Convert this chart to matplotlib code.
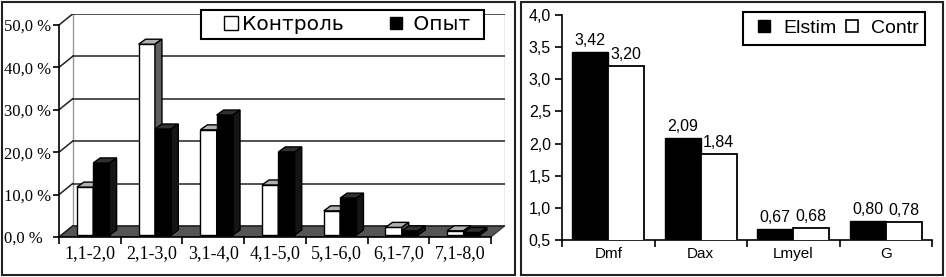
import matplotlib
matplotlib.use('Agg')
import matplotlib.pyplot as plt
from matplotlib.patches import Polygon, Rectangle
from matplotlib.lines import Line2D
import numpy as np

# ---------------- data: left chart ----------------
ranges = ["1,1-2,0", "2,1-3,0", "3,1-4,0", "4,1-5,0", "5,1-6,0", "6,1-7,0", "7,1-8,0"]
control = [11.3, 45.0, 24.8, 11.8, 5.7, 1.8, 1.0]
experiment = [17.0, 25.0, 28.3, 19.6, 8.7, 1.0, 0.6]
left_yticks = [0, 10, 20, 30, 40, 50]
left_legend = ["Контроль", "Опыт"]

# ---------------- data: right chart ----------------
params = ["Dmf", "Dax", "Lmyel", "G"]
elstim = [3.42, 2.09, 0.67, 0.80]
contr = [3.20, 1.84, 0.68, 0.78]
right_yticks = [0.5, 1.0, 1.5, 2.0, 2.5, 3.0, 3.5, 4.0]
right_legend = ["Elstim", "Contr"]

W, H = 946, 277
fig = plt.figure(figsize=(9.46, 2.77), dpi=100)
fig.patch.set_facecolor('white')


def fx(px):
    return px / W


def fy(py):
    return 1 - py / H


# ================= LEFT: pseudo-3D columns =================
x_front0, x_front7 = 59, 491
y_front0, y_front50 = 237, 25
ux = (x_front7 - x_front0) / 7.0
uy = (y_front0 - y_front50) / 50.0
DXpx, DYpx = 13.6, 11.0
DX, DY = DXpx / ux, DYpx / uy

axl = fig.add_axes([fx(x_front0), fy(y_front0),
                    (x_front7 - x_front0 + DXpx) / W,
                    (y_front0 - y_front50 + DYpx) / H])
axl.set_xlim(0, 7 + DX)
axl.set_ylim(0, 50 + DY)
axl.patch.set_visible(False)
ncat = len(ranges)

# floor
axl.add_patch(Polygon([(0, 0), (ncat, 0), (ncat + DX, DY), (DX, DY)], closed=True,
                      fc='#555555', ec='#333333', lw=0.8, zorder=1))
# back wall grid + side-wall diagonals
for v in left_yticks:
    axl.plot([DX, ncat + DX], [v + DY, v + DY], color='#222222', lw=1.1, zorder=1.5)
    axl.plot([0, DX], [v, v + DY], color='#222222', lw=1.1, zorder=1.5)
axl.plot([DX, DX], [DY, 50 + DY], color='#999999', lw=1.0, zorder=1.4)
axl.plot([ncat + DX, ncat + DX], [DY, 50 + DY], color='#999999', lw=1.0, zorder=1.4)

wbar = 0.265
base = 2.0 / uy
ddx = 7.0 / ux
ddy = 5.0 / uy
off_c, off_e = 0.29, 0.29 + wbar


def bar3d(ax, xs, vals, fc_front, fc_top, fc_side, z):
    ax.bar(xs, vals, width=wbar, bottom=base, align='edge', color=fc_front,
           edgecolor='black', lw=1.0, zorder=z)
    for x, v in zip(xs, vals):
        top = base + v
        ax.add_patch(Polygon([(x, top), (x + wbar, top), (x + wbar + ddx, top + ddy),
                              (x + ddx, top + ddy)], closed=True, fc=fc_top,
                             ec='black', lw=1.0, zorder=z))
        ax.add_patch(Polygon([(x + wbar, base), (x + wbar, top),
                              (x + wbar + ddx, top + ddy), (x + wbar + ddx, base + ddy)],
                             closed=True, fc=fc_side, ec='black', lw=1.0, zorder=z))


cats = np.arange(ncat)
bar3d(axl, cats + off_c, control, 'white', '#b0b0b0', '#606060', 3)
bar3d(axl, cats + off_e, experiment, 'black', '#303030', '#151515', 4)

for s in ['top', 'right']:
    axl.spines[s].set_visible(False)
for s in ['left', 'bottom']:
    axl.spines[s].set_linewidth(1.2)
axl.spines['left'].set_bounds(0, 50)
axl.spines['bottom'].set_bounds(0, ncat)

serif = 'Liberation Serif'
axl.set_yticks(left_yticks)
axl.set_yticklabels([("%.1f" % v).replace('.', ',') + " %" for v in left_yticks],
                    fontfamily=serif, fontsize=12)
axl.tick_params(axis='y', direction='out', length=4, width=1.2, pad=35.3)
for lab in axl.get_yticklabels():
    lab.set_horizontalalignment('left')

axl.set_xticks(np.arange(ncat + 1))
axl.set_xticklabels([])
axl.set_xticks(cats + 0.5, minor=True)
axl.set_xticklabels(ranges, minor=True, fontfamily=serif, fontsize=13)
axl.tick_params(axis='x', which='major', direction='out', length=5, width=1.2)
axl.tick_params(axis='x', which='minor', length=0, pad=6)

# left legend frame + legend
fig.patches.append(Rectangle((fx(201), fy(39)), (484 - 201) / W, (39 - 10) / H,
                             transform=fig.transFigure, fc='white', ec='black',
                             lw=1.5, zorder=1))
hl = [Line2D([], [], marker='s', ls='none', mfc='white', mec='black', mew=1.0, ms=9.4),
      Line2D([], [], marker='s', ls='none', mfc='black', mec='black', mew=1.0, ms=8.0)]
fig.legend(hl, [left_legend[0], " " + left_legend[1]], loc='center',
           bbox_to_anchor=(fx(346.5), fy(25)), bbox_transform=fig.transFigure,
           ncol=2, frameon=False, prop={'family': 'DejaVu Sans', 'size': 14.5},
           handlelength=0.8, handletextpad=0.15, columnspacing=2.2,
           borderpad=0, borderaxespad=0)

# ================= RIGHT: 2D columns =================
sans = 'Liberation Sans'
axr = fig.add_axes([fx(562), fy(240), (932 - 562) / W, (240 - 15) / H])
xr = np.arange(len(params))
bw = 0.39
b1 = axr.bar(xr - bw / 2, elstim, bw, color='black', edgecolor='black', lw=1.0, zorder=3)
b2 = axr.bar(xr + bw / 2, contr, bw, color='white', edgecolor='black', lw=1.3, zorder=3)
axr.set_xlim(-0.5, len(params) - 0.5)
axr.set_ylim(0.5, 4.0)
for s in ['top', 'right']:
    axr.spines[s].set_visible(False)
for s in ['left', 'bottom']:
    axr.spines[s].set_linewidth(1.2)
axr.set_yticks(right_yticks)
axr.set_yticklabels([("%.1f" % v).replace('.', ',') for v in right_yticks],
                    fontfamily=sans, fontsize=11.5)
axr.tick_params(axis='y', direction='out', length=5, width=1.2, pad=3)
axr.set_xticks(np.arange(len(params) + 1) - 0.5)
axr.set_xticklabels([])
axr.set_xticks(xr, minor=True)
axr.set_xticklabels(params, minor=True, fontfamily=sans, fontsize=11)
axr.tick_params(axis='x', which='major', direction='out', length=5, width=1.2)
axr.tick_params(axis='x', which='minor', length=0, pad=5)

for bars, vals in [(b1, elstim), (b2, contr)]:
    for rect, v in zip(bars, vals):
        axr.annotate(("%.2f" % v).replace('.', ','),
                     (rect.get_x() + rect.get_width() / 2, v),
                     xytext=(0, 3), textcoords='offset points', ha='center', va='bottom',
                     fontfamily=sans, fontsize=11.5)

fig.patches.append(Rectangle((fx(743), fy(45)), (925 - 743) / W, (45 - 12) / H,
                             transform=fig.transFigure, fc='white', ec='black',
                             lw=1.5, zorder=1))
hr = [Line2D([], [], marker='s', ls='none', mfc='black', mec='black', mew=1.0, ms=8.6),
      Line2D([], [], marker='s', ls='none', mfc='white', mec='black', mew=1.2, ms=8.6)]
fig.legend(hr, right_legend, loc='center',
           bbox_to_anchor=(fx(836.5), fy(28.5)), bbox_transform=fig.transFigure,
           ncol=2, frameon=False, prop={'family': sans, 'size': 14},
           handlelength=1.0, handletextpad=0.5, columnspacing=0.27,
           borderpad=0, borderaxespad=0)

# panel borders
fig.patches.append(Rectangle((fx(2), fy(275)), (515 - 2) / W, (275 - 2) / H,
                             transform=fig.transFigure, fill=False, ec='#222222', lw=1.5))
fig.patches.append(Rectangle((fx(521), fy(275)), (943 - 521) / W, (275 - 2) / H,
                             transform=fig.transFigure, fill=False, ec='#222222', lw=1.5))

fig.savefig('out.png', dpi=100, facecolor='white')
